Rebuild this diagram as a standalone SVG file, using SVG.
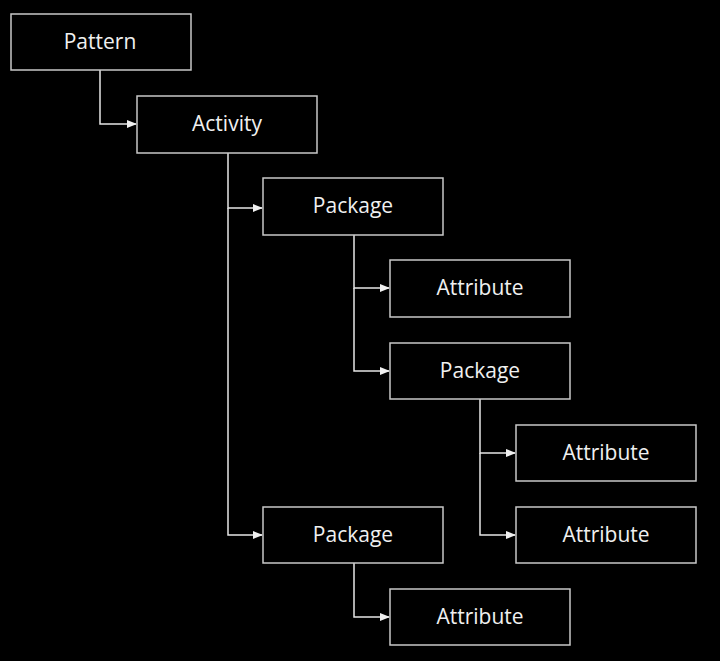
<svg xmlns="http://www.w3.org/2000/svg" width="720" height="661" viewBox="0 0 720 661">
<style>
.box{fill:#000;stroke:#c8c8c8;stroke-width:1.5}
.lbl{font-family:"Open Sans","Noto Sans",sans-serif;font-size:21px;fill:#f0f0f0;text-anchor:middle;dominant-baseline:central}
.conn{fill:none;stroke:#e6e6e6;stroke-width:1.5}
</style>
<defs>
<marker id="ah" markerWidth="10" markerHeight="8" refX="9" refY="4" orient="auto" markerUnits="userSpaceOnUse">
<path d="M0,0 L10,4 L0,8 Z" fill="#f0f0f0"/>
</marker>
</defs>
<rect width="720" height="661" fill="#000"/>
<g id="connectors">
<path class="conn" d="M100,70 V124 H136" marker-end="url(#ah)"/>
<path class="conn" d="M228,153 V208 H262" marker-end="url(#ah)"/>
<path class="conn" d="M228,208 V535 H262" marker-end="url(#ah)"/>
<path class="conn" d="M354,235 V288 H389" marker-end="url(#ah)"/>
<path class="conn" d="M354,288 V371 H389" marker-end="url(#ah)"/>
<path class="conn" d="M480,399 V453 H515" marker-end="url(#ah)"/>
<path class="conn" d="M480,453 V535 H515" marker-end="url(#ah)"/>
<path class="conn" d="M354,563 V617 H389" marker-end="url(#ah)"/>
</g>
<g id="pattern"><rect class="box" x="11" y="14" width="180" height="56"/><text class="lbl" x="100" y="41">Pattern</text></g>
<g id="activity"><rect class="box" x="137" y="96" width="180" height="57"/><text class="lbl" x="227" y="123">Activity</text></g>
<g id="package1"><rect class="box" x="263" y="178" width="180" height="57"/><text class="lbl" x="353" y="205">Package</text></g>
<g id="attribute1"><rect class="box" x="390" y="260" width="180" height="57"/><text class="lbl" x="480" y="287">Attribute</text></g>
<g id="package2"><rect class="box" x="390" y="343" width="180" height="56"/><text class="lbl" x="480" y="370">Package</text></g>
<g id="attribute2"><rect class="box" x="516" y="425" width="180" height="56"/><text class="lbl" x="606" y="452">Attribute</text></g>
<g id="attribute3"><rect class="box" x="516" y="507" width="180" height="56"/><text class="lbl" x="606" y="534">Attribute</text></g>
<g id="package3"><rect class="box" x="263" y="507" width="180" height="56"/><text class="lbl" x="353" y="534">Package</text></g>
<g id="attribute4"><rect class="box" x="390" y="589" width="180" height="56"/><text class="lbl" x="480" y="616">Attribute</text></g>
</svg>
